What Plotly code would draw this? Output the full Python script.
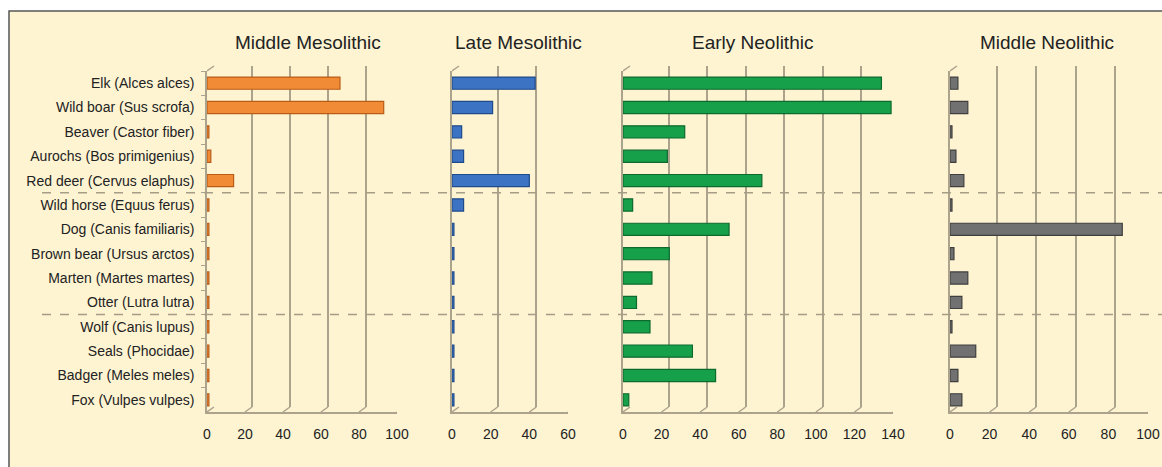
import plotly.graph_objects as go

# Species, listed top to bottom
species = [
    "Elk (Alces alces)", "Wild boar (Sus scrofa)", "Beaver (Castor fiber)",
    "Aurochs (Bos primigenius)", "Red deer (Cervus elaphus)", "Wild horse (Equus ferus)",
    "Dog (Canis familiaris)", "Brown bear (Ursus arctos)", "Marten (Martes martes)",
    "Otter (Lutra lutra)", "Wolf (Canis lupus)", "Seals (Phocidae)",
    "Badger (Meles meles)", "Fox (Vulpes vulpes)",
]

periods = ["Middle Mesolithic", "Late Mesolithic", "Early Neolithic", "Middle Neolithic"]

middle_mesolithic = [70, 93, 1, 2, 14, 1, 1, 1, 1, 1, 1, 1, 1, 1]
late_mesolithic = [43, 21, 5, 6, 40, 6, 1, 1, 1, 1, 1, 1, 1, 1]
early_neolithic = [134, 139, 32, 23, 72, 5, 55, 24, 15, 7, 14, 36, 48, 3]
middle_neolithic = [4, 9, 1, 3, 7, 1, 87, 2, 9, 6, 1, 13, 4, 6]

axis_max = [100, 60, 140, 100]
tick_step = 20

W, H = 1162, 467


def fx(px):
    return px / W


def fy(py):
    return 1 - py / H


values = [middle_mesolithic, late_mesolithic, early_neolithic, middle_neolithic]
face = ["#F28B35", "#3C73C2", "#17A04A", "#717171"]
edge = ["#B95C18", "#1F4A8C", "#0C6A2E", "#3F3F3F"]

# front plane horizontal extent of each panel (pixels)
front_x = [(207, 397), (452, 568), (623, 893), (950, 1148)]
front_top, front_bottom = 71, 412
dx, dy = 7, 5          # depth offset of the back wall
title_x = [308, 518, 752, 1047]

grid_col = "#ABA38C"
text_col = "#222222"
font = "Liberation Sans, Arial, sans-serif"

fig = go.Figure()
layout = dict(
    width=W, height=H,
    margin=dict(l=0, r=0, t=0, b=0, pad=0),
    paper_bgcolor="white",
    plot_bgcolor="rgba(0,0,0,0)",
    showlegend=False,
    bargap=0.5,
)

shapes = [
    # cream panel with frame (right and bottom edges run off the page)
    dict(type="rect", xref="paper", yref="paper",
         x0=fx(9), x1=1.2, y0=fy(11), y1=-0.2,
         fillcolor="#FEF4D2", line=dict(color="#555555", width=1.5), layer="below"),
]
annotations = []

for i in range(4):
    back = i + 1
    front = i + 5
    x0, x1 = front_x[i]
    rng = [0, axis_max[i]]
    ticks = list(range(0, axis_max[i] + 1, tick_step))
    depth = dx * axis_max[i] / (x1 - x0)   # depth offset in data units

    # back wall: carries the vertical gridlines
    layout[f"xaxis{back}"] = dict(
        domain=[fx(x0 + dx), fx(x1 + dx)], range=rng, anchor=f"y{back}",
        showgrid=True, gridcolor=grid_col, gridwidth=1.5, tickvals=ticks,
        showticklabels=False, zeroline=False, showline=False, fixedrange=True,
        automargin=False,
    )
    layout[f"yaxis{back}"] = dict(
        domain=[fy(front_bottom - dy), fy(front_top - dy)], range=[0, 1],
        anchor=f"x{back}", visible=False, fixedrange=True, automargin=False,
    )
    fig.add_trace(go.Scatter(x=[], y=[], xaxis=f"x{back}", yaxis=f"y{back}",
                             hoverinfo="skip"))

    # front plane: bars, floor line and tick labels
    layout[f"xaxis{front}"] = dict(
        domain=[fx(x0), fx(x1)], range=rng, anchor=f"y{front}",
        showgrid=False, zeroline=False, showline=True, linecolor=grid_col, linewidth=1.5,
        tickvals=ticks, ticks="", ticklabelstandoff=8, automargin=False,
        tickfont=dict(family=font, size=14, color=text_col), fixedrange=True,
    )
    layout[f"yaxis{front}"] = dict(
        domain=[fy(front_bottom), fy(front_top)], anchor=f"x{front}",
        type="category", categoryorder="array", categoryarray=species,
        autorange="reversed", showgrid=False, zeroline=False,
        showline=True, linecolor=grid_col, linewidth=1.5,
        showticklabels=(i == 0), ticks="outside" if i == 0 else "",
        tickson="boundaries", ticklen=4, tickcolor=grid_col, ticklabelstandoff=8,
        tickfont=dict(family=font, size=14, color=text_col), fixedrange=True,
        automargin=False,
    )
    fig.add_trace(go.Bar(
        x=values[i], y=species, orientation="h",
        xaxis=f"x{front}", yaxis=f"y{front}",
        marker=dict(color=face[i], line=dict(color=edge[i], width=1.2)),
        hovertemplate="%{y}: %{x}<extra>" + periods[i] + "</extra>",
    ))

    # depth connectors on the floor and the top of the left wall
    for v in ticks:
        shapes.append(dict(
            type="line", xref=f"x{front}", yref="paper",
            x0=v, x1=v + depth, y0=fy(front_bottom), y1=fy(front_bottom - dy),
            line=dict(color=grid_col, width=1.5),
        ))
    shapes.append(dict(
        type="line", xref=f"x{front}", yref="paper",
        x0=0, x1=depth, y0=fy(front_top), y1=fy(front_top - dy),
        line=dict(color=grid_col, width=1.5),
    ))

    annotations.append(dict(
        text=periods[i], xref="paper", yref="paper",
        x=fx(title_x[i]), y=fy(42), xanchor="center", yanchor="middle",
        showarrow=False, font=dict(family=font, size=19, color=text_col),
    ))

# dashed separators between species groups
for b in (4.5, 9.5):
    shapes.append(dict(
        type="line", xref="paper", yref="y5", x0=fx(42), x1=1, y0=b, y1=b,
        line=dict(color="#A69D86", width=1.5, dash="dash"), layer="above",
    ))

layout["shapes"] = shapes
layout["annotations"] = annotations
fig.update_layout(**layout)

fig.write_html("out.html")
